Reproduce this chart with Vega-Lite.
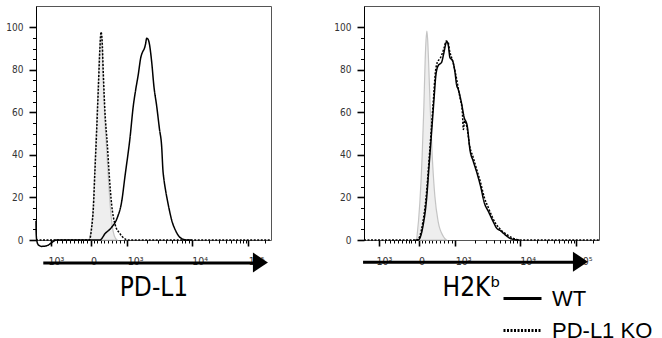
{
  "$schema": "https://vega.github.io/schema/vega-lite/v6.json",
  "background": "white",
  "padding": {"left": 5, "top": 5, "right": 0, "bottom": 0},
  "spacing": 58,
  "config": {
    "view": {"stroke": "#555555", "strokeWidth": 1},
    "axis": {"labelFont": "Liberation Sans Narrow, DejaVu Sans Condensed, Liberation Sans", "titleFont": "Liberation Sans Narrow, DejaVu Sans Condensed, Liberation Sans", "grid": false}
  },
  "datasets": {
    "hist": [
      {"panel":"PD-L1","group":"WT","channel":0,"count":9},
      {"panel":"PD-L1","group":"WT","channel":0.5,"count":4},
      {"panel":"PD-L1","group":"WT","channel":3,"count":0},
      {"panel":"PD-L1","group":"WT","channel":10,"count":-2.3},
      {"panel":"PD-L1","group":"WT","channel":25,"count":-3},
      {"panel":"PD-L1","group":"WT","channel":50,"count":-2.5},
      {"panel":"PD-L1","group":"WT","channel":70,"count":-1},
      {"panel":"PD-L1","group":"WT","channel":85,"count":0},
      {"panel":"PD-L1","group":"WT","channel":272,"count":0},
      {"panel":"PD-L1","group":"WT","channel":294,"count":3},
      {"panel":"PD-L1","group":"WT","channel":322,"count":6},
      {"panel":"PD-L1","group":"WT","channel":346,"count":10.5},
      {"panel":"PD-L1","group":"WT","channel":364.5,"count":18},
      {"panel":"PD-L1","group":"WT","channel":378.7,"count":30},
      {"panel":"PD-L1","group":"WT","channel":400,"count":48},
      {"panel":"PD-L1","group":"WT","channel":414,"count":63},
      {"panel":"PD-L1","group":"WT","channel":424,"count":70.5},
      {"panel":"PD-L1","group":"WT","channel":435.5,"count":78},
      {"panel":"PD-L1","group":"WT","channel":445.4,"count":85.5},
      {"panel":"PD-L1","group":"WT","channel":454,"count":88.5},
      {"panel":"PD-L1","group":"WT","channel":461,"count":90},
      {"panel":"PD-L1","group":"WT","channel":466,"count":92},
      {"panel":"PD-L1","group":"WT","channel":471,"count":94.8},
      {"panel":"PD-L1","group":"WT","channel":476,"count":94.5},
      {"panel":"PD-L1","group":"WT","channel":481,"count":93},
      {"panel":"PD-L1","group":"WT","channel":492,"count":84},
      {"panel":"PD-L1","group":"WT","channel":502,"count":72},
      {"panel":"PD-L1","group":"WT","channel":513.5,"count":63},
      {"panel":"PD-L1","group":"WT","channel":525,"count":52.5},
      {"panel":"PD-L1","group":"WT","channel":535,"count":43.5},
      {"panel":"PD-L1","group":"WT","channel":540,"count":33},
      {"panel":"PD-L1","group":"WT","channel":545,"count":28},
      {"panel":"PD-L1","group":"WT","channel":552,"count":23},
      {"panel":"PD-L1","group":"WT","channel":563,"count":16.5},
      {"panel":"PD-L1","group":"WT","channel":577,"count":9.5},
      {"panel":"PD-L1","group":"WT","channel":596,"count":4},
      {"panel":"PD-L1","group":"WT","channel":613,"count":1.2},
      {"panel":"PD-L1","group":"WT","channel":641,"count":0},
      {"panel":"PD-L1","group":"WT","channel":662,"count":0},

      {"panel":"PD-L1","group":"PD-L1 KO","channel":0,"count":0},
      {"panel":"PD-L1","group":"PD-L1 KO","channel":227,"count":0},
      {"panel":"PD-L1","group":"PD-L1 KO","channel":237,"count":6},
      {"panel":"PD-L1","group":"PD-L1 KO","channel":244,"count":15},
      {"panel":"PD-L1","group":"PD-L1 KO","channel":251,"count":33},
      {"panel":"PD-L1","group":"PD-L1 KO","channel":258,"count":51},
      {"panel":"PD-L1","group":"PD-L1 KO","channel":265,"count":70.5},
      {"panel":"PD-L1","group":"PD-L1 KO","channel":272,"count":90},
      {"panel":"PD-L1","group":"PD-L1 KO","channel":276.6,"count":97.8},
      {"panel":"PD-L1","group":"PD-L1 KO","channel":281,"count":94.5},
      {"panel":"PD-L1","group":"PD-L1 KO","channel":286.5,"count":78},
      {"panel":"PD-L1","group":"PD-L1 KO","channel":293.6,"count":60},
      {"panel":"PD-L1","group":"PD-L1 KO","channel":303.5,"count":45},
      {"panel":"PD-L1","group":"PD-L1 KO","channel":312,"count":30},
      {"panel":"PD-L1","group":"PD-L1 KO","channel":322,"count":16.5},
      {"panel":"PD-L1","group":"PD-L1 KO","channel":336,"count":7.5},
      {"panel":"PD-L1","group":"PD-L1 KO","channel":357,"count":3},
      {"panel":"PD-L1","group":"PD-L1 KO","channel":393,"count":0},
      {"panel":"PD-L1","group":"PD-L1 KO","channel":1000,"count":0},

      {"panel":"PD-L1","group":"Isotype","channel":226,"count":0},
      {"panel":"PD-L1","group":"Isotype","channel":236,"count":6},
      {"panel":"PD-L1","group":"Isotype","channel":243,"count":15},
      {"panel":"PD-L1","group":"Isotype","channel":250,"count":33},
      {"panel":"PD-L1","group":"Isotype","channel":257,"count":51},
      {"panel":"PD-L1","group":"Isotype","channel":264,"count":70.5},
      {"panel":"PD-L1","group":"Isotype","channel":271,"count":90},
      {"panel":"PD-L1","group":"Isotype","channel":276,"count":97.5},
      {"panel":"PD-L1","group":"Isotype","channel":280,"count":94},
      {"panel":"PD-L1","group":"Isotype","channel":285.5,"count":77},
      {"panel":"PD-L1","group":"Isotype","channel":292,"count":59},
      {"panel":"PD-L1","group":"Isotype","channel":300,"count":44},
      {"panel":"PD-L1","group":"Isotype","channel":308,"count":29},
      {"panel":"PD-L1","group":"Isotype","channel":316,"count":16},
      {"panel":"PD-L1","group":"Isotype","channel":324,"count":7},
      {"panel":"PD-L1","group":"Isotype","channel":333,"count":2},
      {"panel":"PD-L1","group":"Isotype","channel":345,"count":0},

      {"panel":"H2Kb","group":"WT","channel":218,"count":0},
      {"panel":"H2Kb","group":"WT","channel":230.4,"count":0},
      {"panel":"H2Kb","group":"WT","channel":251.7,"count":7},
      {"panel":"H2Kb","group":"WT","channel":266,"count":19},
      {"panel":"H2Kb","group":"WT","channel":277.3,"count":35.5},
      {"panel":"H2Kb","group":"WT","channel":287.5,"count":50.5},
      {"panel":"H2Kb","group":"WT","channel":297.4,"count":65.5},
      {"panel":"H2Kb","group":"WT","channel":305.9,"count":77.5},
      {"panel":"H2Kb","group":"WT","channel":315.8,"count":82},
      {"panel":"H2Kb","group":"WT","channel":330,"count":83.5},
      {"panel":"H2Kb","group":"WT","channel":340,"count":88},
      {"panel":"H2Kb","group":"WT","channel":348.5,"count":92.5},
      {"panel":"H2Kb","group":"WT","channel":352,"count":93.3},
      {"panel":"H2Kb","group":"WT","channel":358.4,"count":91.8},
      {"panel":"H2Kb","group":"WT","channel":365.6,"count":85.8},
      {"panel":"H2Kb","group":"WT","channel":377,"count":84.3},
      {"panel":"H2Kb","group":"WT","channel":387,"count":79},
      {"panel":"H2Kb","group":"WT","channel":394,"count":73},
      {"panel":"H2Kb","group":"WT","channel":401,"count":70.8},
      {"panel":"H2Kb","group":"WT","channel":415.5,"count":64},
      {"panel":"H2Kb","group":"WT","channel":425.3,"count":58},
      {"panel":"H2Kb","group":"WT","channel":439.4,"count":53.5},
      {"panel":"H2Kb","group":"WT","channel":451,"count":42.3},
      {"panel":"H2Kb","group":"WT","channel":465,"count":37},
      {"panel":"H2Kb","group":"WT","channel":482,"count":31},
      {"panel":"H2Kb","group":"WT","channel":496.6,"count":25},
      {"panel":"H2Kb","group":"WT","channel":512,"count":17.5},
      {"panel":"H2Kb","group":"WT","channel":529,"count":13.5},
      {"panel":"H2Kb","group":"WT","channel":550.4,"count":8.5},
      {"panel":"H2Kb","group":"WT","channel":565,"count":5.5},
      {"panel":"H2Kb","group":"WT","channel":579,"count":4.5},
      {"panel":"H2Kb","group":"WT","channel":600,"count":2.5},
      {"panel":"H2Kb","group":"WT","channel":621.6,"count":0.8},
      {"panel":"H2Kb","group":"WT","channel":657,"count":0},
      {"panel":"H2Kb","group":"WT","channel":662,"count":0},

      {"panel":"H2Kb","group":"PD-L1 KO","channel":0,"count":0},
      {"panel":"H2Kb","group":"PD-L1 KO","channel":226,"count":0},
      {"panel":"H2Kb","group":"PD-L1 KO","channel":250,"count":8},
      {"panel":"H2Kb","group":"PD-L1 KO","channel":265,"count":21},
      {"panel":"H2Kb","group":"PD-L1 KO","channel":277,"count":38},
      {"panel":"H2Kb","group":"PD-L1 KO","channel":287,"count":53},
      {"panel":"H2Kb","group":"PD-L1 KO","channel":296,"count":67},
      {"panel":"H2Kb","group":"PD-L1 KO","channel":303,"count":78},
      {"panel":"H2Kb","group":"PD-L1 KO","channel":312,"count":83.5},
      {"panel":"H2Kb","group":"PD-L1 KO","channel":325,"count":85.5},
      {"panel":"H2Kb","group":"PD-L1 KO","channel":340,"count":90},
      {"panel":"H2Kb","group":"PD-L1 KO","channel":350,"count":93.5},
      {"panel":"H2Kb","group":"PD-L1 KO","channel":358,"count":93},
      {"panel":"H2Kb","group":"PD-L1 KO","channel":364,"count":89},
      {"panel":"H2Kb","group":"PD-L1 KO","channel":372,"count":86},
      {"panel":"H2Kb","group":"PD-L1 KO","channel":380,"count":83},
      {"panel":"H2Kb","group":"PD-L1 KO","channel":390,"count":78},
      {"panel":"H2Kb","group":"PD-L1 KO","channel":400,"count":72},
      {"panel":"H2Kb","group":"PD-L1 KO","channel":410,"count":66},
      {"panel":"H2Kb","group":"PD-L1 KO","channel":418,"count":61},
      {"panel":"H2Kb","group":"PD-L1 KO","channel":423,"count":52},
      {"panel":"H2Kb","group":"PD-L1 KO","channel":428,"count":56},
      {"panel":"H2Kb","group":"PD-L1 KO","channel":438,"count":53},
      {"panel":"H2Kb","group":"PD-L1 KO","channel":450,"count":44},
      {"panel":"H2Kb","group":"PD-L1 KO","channel":464,"count":39},
      {"panel":"H2Kb","group":"PD-L1 KO","channel":480,"count":33},
      {"panel":"H2Kb","group":"PD-L1 KO","channel":496,"count":27},
      {"panel":"H2Kb","group":"PD-L1 KO","channel":512,"count":20},
      {"panel":"H2Kb","group":"PD-L1 KO","channel":528,"count":15.5},
      {"panel":"H2Kb","group":"PD-L1 KO","channel":545,"count":11},
      {"panel":"H2Kb","group":"PD-L1 KO","channel":562,"count":7.5},
      {"panel":"H2Kb","group":"PD-L1 KO","channel":585,"count":4.5},
      {"panel":"H2Kb","group":"PD-L1 KO","channel":615,"count":2},
      {"panel":"H2Kb","group":"PD-L1 KO","channel":650,"count":0.3},
      {"panel":"H2Kb","group":"PD-L1 KO","channel":670,"count":0},
      {"panel":"H2Kb","group":"PD-L1 KO","channel":1000,"count":0},

      {"panel":"H2Kb","group":"Isotype","channel":224,"count":0},
      {"panel":"H2Kb","group":"Isotype","channel":237.6,"count":17.5},
      {"panel":"H2Kb","group":"Isotype","channel":247.6,"count":40},
      {"panel":"H2Kb","group":"Isotype","channel":254.7,"count":62.5},
      {"panel":"H2Kb","group":"Isotype","channel":260.4,"count":85},
      {"panel":"H2Kb","group":"Isotype","channel":264,"count":94},
      {"panel":"H2Kb","group":"Isotype","channel":267.6,"count":98.2},
      {"panel":"H2Kb","group":"Isotype","channel":271,"count":94},
      {"panel":"H2Kb","group":"Isotype","channel":274.5,"count":85},
      {"panel":"H2Kb","group":"Isotype","channel":281.7,"count":62.5},
      {"panel":"H2Kb","group":"Isotype","channel":290.2,"count":40},
      {"panel":"H2Kb","group":"Isotype","channel":301.6,"count":20.5},
      {"panel":"H2Kb","group":"Isotype","channel":315.8,"count":8.5},
      {"panel":"H2Kb","group":"Isotype","channel":337,"count":1.8},
      {"panel":"H2Kb","group":"Isotype","channel":351.4,"count":0}
    ]
  },
  "hconcat": [
    {
      "width": 235,
      "height": 234,
      "layer": [
        {
          "data": {"name": "hist"},
          "transform": [{"filter": "datum.panel === 'PD-L1' && datum.group === 'Isotype'"}],
          "mark": {"type": "area", "fill": "#eeeeee", "stroke": "#c4c4c4", "strokeWidth": 1.2, "interpolate": "monotone"},
          "encoding": {
            "x": {"field": "channel", "type": "quantitative", "scale": {"domain": [0, 1000]},
              "axis": {
                "tickCount": 200,
                "values": [62.4, 90.8, 109.2, 127.7, 144.7, 161.7, 177.3, 190.1, 201.4, 216, 232, 245, 258.2, 275.2, 289.4, 307.8, 324.8, 340.4, 357.4, 374.5, 388.6, 471, 519.2, 553.5, 580, 601.7, 620, 635.9, 649.9, 662.4, 735, 777.4, 807.5, 830.9, 849.9, 866, 880, 892.4, 903.4, 976],
                "labelExpr": "datum.value == 62.4 ? '-10³' : datum.value == 232 ? '0' : datum.value == 388.6 ? '10³' : datum.value == 662.4 ? '10⁴' : datum.value == 903.4 ? '10⁵' : ''",
                "tickSize": {"condition": {"test": "datum.value == 62.4 || datum.value == 232 || datum.value == 388.6 || datum.value == 662.4 || datum.value == 903.4", "value": 6}, "value": 3},
                "tickWidth": {"condition": {"test": "datum.value == 62.4 || datum.value == 232 || datum.value == 388.6 || datum.value == 662.4 || datum.value == 903.4", "value": 1.6}, "value": 1},
                "labelOffset": {"condition": {"test": "datum.value == 62.4", "value": -6}, "value": 0},
                "tickColor": "black",
                "domain": false,
                "labelAlign": "left",
                "labelBaseline": "alphabetic",
                "labelPadding": 18,
                "labelFontSize": 10.5,
                "labelColor": "#333333",
                "labelFlush": false,
                "labelOverlap": false,
                "title": "PD-L1",
                "titleFontSize": 26,
                "titleFontWeight": "normal",
                "titleColor": "black",
                "titleBaseline": "alphabetic",
                "titleY": 55
              }
            },
            "y": {"field": "count", "type": "quantitative", "scale": {"domain": [0, 105.3]},
              "axis": {
                "tickCount": 200,
                "format": "d",
                "values": [0,5,10,15,20,25,30,35,40,45,50,55,60,65,70,75,80,85,90,95,100],
                "labelExpr": "datum.value % 20 === 0 ? datum.label : ''",
                "tickSize": {"condition": {"test": "datum.value % 20 === 0", "value": 7}, "value": 3.5},
                "tickWidth": {"condition": {"test": "datum.value % 20 === 0", "value": 1.6}, "value": 1},
                "tickColor": "black",
                "domainColor": "black",
                "labelFontSize": 10,
                "labelColor": "#333333",
                "labelPadding": 6,
                "labelOverlap": false,
                "title": null
              }
            }
          }
        },
        {
          "data": {"name": "hist"},
          "transform": [{"filter": "datum.panel === 'PD-L1' && datum.group !== 'Isotype'"}],
          "mark": {"type": "line", "color": "black", "strokeWidth": 1.5, "interpolate": "monotone", "clip": false},
          "encoding": {
            "x": {"field": "channel", "type": "quantitative"},
            "y": {"field": "count", "type": "quantitative"},
            "strokeDash": {"field": "group", "type": "nominal",
              "scale": {"domain": ["WT", "PD-L1 KO"], "range": [[1, 0], [2, 1.5]]},
              "legend": {"orient": "none", "legendX": 466, "legendY": 272, "title": null,
                "symbolType": "stroke", "symbolSize": 1444, "symbolStrokeWidth": 3, "symbolStrokeColor": "black",
                "labelFont": "Liberation Sans", "labelFontSize": 22, "labelColor": "black", "labelOffset": 9, "rowPadding": -7}
            }
          }
        },
        {
          "data": {"values": [{}]},
          "mark": {"type": "rule", "color": "black", "strokeWidth": 3, "clip": false},
          "encoding": {"x": {"datum": 31}, "x2": {"datum": 930}, "y": {"datum": -10.8}}
        },
        {
          "data": {"values": [{}]},
          "mark": {"type": "point", "shape": "M-0.75,-1L0.75,0L-0.75,1Z", "filled": true, "color": "black", "opacity": 1, "size": 400, "clip": false},
          "encoding": {"x": {"datum": 955}, "y": {"datum": -10.6}}
        }
      ]
    },
    {
      "width": 235,
      "height": 234,
      "layer": [
        {
          "data": {"name": "hist"},
          "transform": [{"filter": "datum.panel === 'H2Kb' && datum.group === 'Isotype'"}],
          "mark": {"type": "area", "fill": "#eeeeee", "stroke": "#c4c4c4", "strokeWidth": 1.2, "interpolate": "monotone"},
          "encoding": {
            "x": {"field": "channel", "type": "quantitative", "scale": {"domain": [0, 1000]},
              "axis": {
                "tickCount": 200,
                "values": [62.4, 90.8, 109.2, 127.7, 144.7, 161.7, 177.3, 190.1, 201.4, 216, 232, 245, 258.2, 275.2, 289.4, 307.8, 324.8, 340.4, 357.4, 374.5, 388.6, 471, 519.2, 553.5, 580, 601.7, 620, 635.9, 649.9, 662.4, 735, 777.4, 807.5, 830.9, 849.9, 866, 880, 892.4, 903.4, 976],
                "labelExpr": "datum.value == 62.4 ? '-10³' : datum.value == 232 ? '0' : datum.value == 388.6 ? '10³' : datum.value == 662.4 ? '10⁴' : datum.value == 903.4 ? '10⁵' : ''",
                "tickSize": {"condition": {"test": "datum.value == 62.4 || datum.value == 232 || datum.value == 388.6 || datum.value == 662.4 || datum.value == 903.4", "value": 6}, "value": 3},
                "tickWidth": {"condition": {"test": "datum.value == 62.4 || datum.value == 232 || datum.value == 388.6 || datum.value == 662.4 || datum.value == 903.4", "value": 1.6}, "value": 1},
                "labelOffset": {"condition": {"test": "datum.value == 62.4", "value": -6}, "value": 0},
                "tickColor": "black",
                "domain": false,
                "labelAlign": "left",
                "labelBaseline": "alphabetic",
                "labelPadding": 18,
                "labelFontSize": 10.5,
                "labelColor": "#333333",
                "labelFlush": false,
                "labelOverlap": false,
                "title": "H2Kᵇ",
                "titleFontSize": 26,
                "titleFontWeight": "normal",
                "titleColor": "black",
                "titleBaseline": "alphabetic",
                "titleX": 107,
                "titleY": 55
              }
            },
            "y": {"field": "count", "type": "quantitative", "scale": {"domain": [0, 105.3]},
              "axis": {
                "tickCount": 200,
                "format": "d",
                "values": [0,5,10,15,20,25,30,35,40,45,50,55,60,65,70,75,80,85,90,95,100],
                "labelExpr": "datum.value % 20 === 0 ? datum.label : ''",
                "tickSize": {"condition": {"test": "datum.value % 20 === 0", "value": 7}, "value": 3.5},
                "tickWidth": {"condition": {"test": "datum.value % 20 === 0", "value": 1.6}, "value": 1},
                "tickColor": "black",
                "domainColor": "black",
                "labelFontSize": 10,
                "labelColor": "#333333",
                "labelPadding": 6,
                "labelOverlap": false,
                "title": null
              }
            }
          }
        },
        {
          "data": {"name": "hist"},
          "transform": [{"filter": "datum.panel === 'H2Kb' && datum.group !== 'Isotype'"}],
          "mark": {"type": "line", "color": "black", "strokeWidth": 1.5, "interpolate": "monotone", "clip": false},
          "encoding": {
            "x": {"field": "channel", "type": "quantitative"},
            "y": {"field": "count", "type": "quantitative"},
            "strokeDash": {"field": "group", "type": "nominal",
              "scale": {"domain": ["WT", "PD-L1 KO"], "range": [[1, 0], [2, 1.5]]}}
          }
        },
        {
          "data": {"values": [{}]},
          "mark": {"type": "rule", "color": "black", "strokeWidth": 3, "clip": false},
          "encoding": {"x": {"datum": -4}, "x2": {"datum": 900}, "y": {"datum": -10.5}}
        },
        {
          "data": {"values": [{}]},
          "mark": {"type": "point", "shape": "M-0.75,-1L0.75,0L-0.75,1Z", "filled": true, "color": "black", "opacity": 1, "size": 400, "clip": false},
          "encoding": {"x": {"datum": 921}, "y": {"datum": -10.2}}
        }
      ]
    }
  ]
}
